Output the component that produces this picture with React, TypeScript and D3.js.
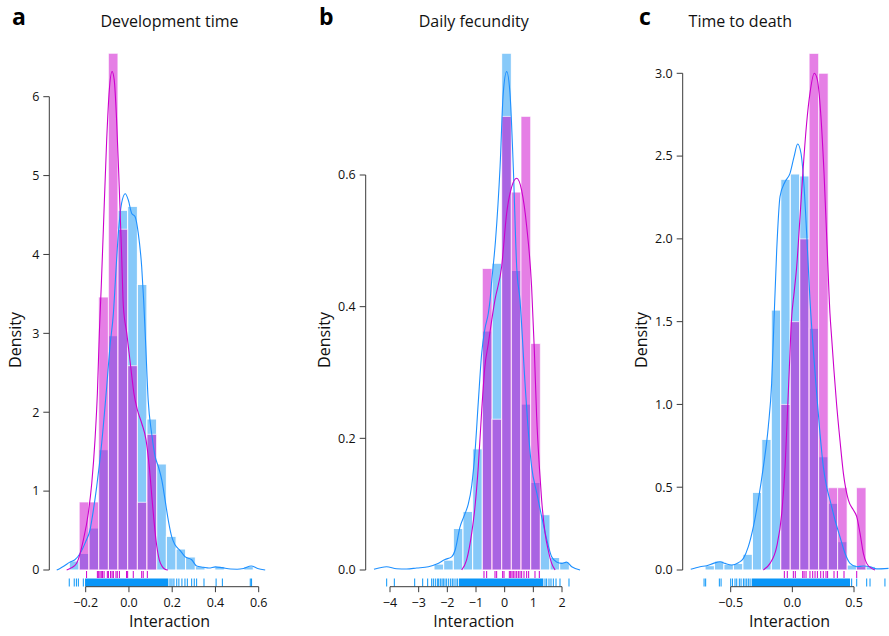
import React from "react";
import * as d3 from "d3";

const W = 889;
const H = 636;
const FONT = "'Open Sans', 'Noto Sans', sans-serif";

// ---------- a: Development time ----------
const aBinEdges = [-0.276, -0.230, -0.185, -0.140, -0.095, -0.051, -0.006, 0.039, 0.083, 0.128, 0.173, 0.218, 0.262, 0.307, 0.352, 0.397, 0.441, 0.486, 0.531, 0.575, 0.620];
const aBlueHist = [0.114, 0.21, 0.532, 1.525, 2.97, 4.56, 4.61, 3.62, 1.914, 1.344, 0.427, 0.266, 0.165, 0.043, 0, 0.043, 0, 0, 0.043, 0];
const aPinkHist = [0, 0.862, 0.862, 3.46, 6.55, 4.32, 2.59, 0.858, 1.72, 0, 0, 0, 0, 0, 0, 0, 0, 0, 0, 0];
const aBlueDensity: [number, number][] = [
  [-0.334, 0], [-0.319, 0.02], [-0.3, 0.05], [-0.273, 0.1], [-0.25, 0.13], [-0.226, 0.21], [-0.2, 0.36],
  [-0.18, 0.51], [-0.165, 0.75], [-0.149, 1.06], [-0.126, 1.61], [-0.103, 2.32], [-0.088, 2.83], [-0.072, 3.25],
  [-0.06, 3.8], [-0.049, 4.27], [-0.034, 4.65], [-0.017, 4.77], [-0.003, 4.69], [0.013, 4.52], [0.028, 4.48],
  [0.043, 4.27], [0.059, 3.84], [0.068, 3.42], [0.076, 2.95], [0.089, 2.15], [0.105, 1.73], [0.121, 1.44],
  [0.136, 1.31], [0.152, 1.14], [0.167, 0.89], [0.182, 0.63], [0.198, 0.42], [0.213, 0.32], [0.236, 0.25],
  [0.259, 0.17], [0.29, 0.13], [0.313, 0.05], [0.344, 0.035], [0.37, 0.025], [0.4, 0.04], [0.43, 0.03],
  [0.47, 0.012], [0.5, 0.01], [0.53, 0.02], [0.565, 0.05], [0.595, 0.02], [0.63, 0],
];
const aPinkDensity: [number, number][] = [
  [-0.288, 0], [-0.265, 0.03], [-0.242, 0.085], [-0.211, 0.38], [-0.188, 0.72], [-0.172, 1.1], [-0.157, 1.65],
  [-0.146, 2.24], [-0.137, 3.0], [-0.128, 3.6], [-0.119, 4.27], [-0.103, 5.45], [-0.091, 6.08], [-0.078, 6.32],
  [-0.068, 6.21], [-0.057, 5.7], [-0.045, 4.86], [-0.034, 4.01], [-0.026, 3.35], [-0.01, 3.0], [0.008, 2.58],
  [0.023, 2.24], [0.039, 2.03], [0.059, 1.86], [0.079, 1.65], [0.094, 1.31], [0.11, 0.8], [0.125, 0.38],
  [0.14, 0.13], [0.155, 0.04], [0.167, 0.01], [0.18, 0],
];
const aBlueRug = [-0.276, -0.253, -0.243, -0.234, -0.211, 0.19, 0.199, 0.208, 0.221, 0.231, 0.245, 0.259, 0.27, 0.29, 0.302, 0.313, 0.347, 0.403, 0.432, 0.561, 0.567];
const aBlueRugBand = [-0.203, 0.182];
const aPinkRug = [-0.196, -0.146, -0.14, -0.134, -0.128, -0.122, -0.115, -0.1, -0.095, -0.085, -0.078, -0.072, -0.06, -0.054, -0.044, -0.011, -0.006, 0.02, 0.059, 0.066, 0.085];
const aXTicks = [-0.2, 0, 0.2, 0.4, 0.6];
const aYTicks = [0, 1, 2, 3, 4, 5, 6];

// ---------- b: Daily fecundity ----------
const bBinEdges = [-2.465, -2.128, -1.791, -1.454, -1.116, -0.779, -0.442, -0.105, 0.233, 0.57, 0.907, 1.244, 1.581, 1.919, 2.256];
const bBlueHist = [0.009, 0.015, 0.063, 0.089, 0.184, 0.363, 0.466, 0.785, 0.455, 0.252, 0.133, 0.084, 0.019, 0.012];
const bPinkHist = [0, 0, 0, 0, 0, 0.458, 0.229, 0.689, 0.574, 0.689, 0.344, 0, 0, 0];
const bBlueDensity: [number, number][] = [
  [-4.56, 0.001], [-4.12, 0.005], [-3.77, 0.002], [-3.42, 0.0015], [-3.07, 0.003], [-2.66, 0.005], [-2.37, 0.009],
  [-2.08, 0.016], [-1.85, 0.02], [-1.73, 0.03], [-1.56, 0.065], [-1.38, 0.086], [-1.27, 0.1], [-1.15, 0.128],
  [-1.035, 0.179], [-0.92, 0.255], [-0.8, 0.33], [-0.69, 0.366], [-0.57, 0.39], [-0.51, 0.41], [-0.45, 0.44],
  [-0.32, 0.5], [-0.16, 0.613], [-0.05, 0.724], [0.07, 0.757], [0.186, 0.724], [0.3, 0.613], [0.42, 0.46],
  [0.535, 0.41], [0.71, 0.284], [0.83, 0.208], [0.94, 0.157], [1.12, 0.117], [1.29, 0.081], [1.47, 0.046],
  [1.64, 0.02], [1.81, 0.012], [1.99, 0.01], [2.16, 0.012], [2.34, 0.005], [2.63, 0],
];
const bPinkDensity: [number, number][] = [
  [-1.5, 0], [-1.33, 0.015], [-1.15, 0.056], [-1.035, 0.096], [-0.92, 0.157], [-0.8, 0.243], [-0.69, 0.309],
  [-0.57, 0.344], [-0.45, 0.38], [-0.34, 0.41], [-0.105, 0.461], [0.07, 0.542], [0.245, 0.582], [0.42, 0.595],
  [0.59, 0.577], [0.77, 0.521], [0.94, 0.43], [1.035, 0.334], [1.116, 0.233], [1.21, 0.157], [1.29, 0.106],
  [1.41, 0.056], [1.52, 0.03], [1.64, 0.01], [1.76, 0],
];
const bBlueRug = [-4.116, -3.849, -3.139, -2.86, -2.686, -2.546, -2.488, -2.419, -2.349, -2.302, -2.244, -2.186, -2.14, -2.081, -2.023, -1.953, -1.884, -1.826, -1.767, -1.698, -1.64, 1.407, 1.465, 1.546, 1.616, 1.698, 1.791, 1.93, 2.244];
const bBlueRugBand = [-1.593, 1.349];
const bPinkRug = [-0.721, -0.628, -0.337, -0.279, -0.07, -0.023, 0.163, 0.209, 0.256, 0.302, 0.36, 0.419, 0.477, 0.535, 0.593, 0.674, 0.767, 0.837, 1.058, 1.209];
const bXTicks = [-4, -3, -2, -1, 0, 1, 2];
const bYTicks = [0, 0.2, 0.4, 0.6];

// ---------- c: Time to death ----------
const cBinEdges = [-0.708, -0.632, -0.555, -0.478, -0.401, -0.324, -0.248, -0.171, -0.094, -0.017, 0.06, 0.136, 0.213, 0.29, 0.367, 0.444, 0.52, 0.597, 0.674];
const cBlueHist = [0.026, 0.054, 0.034, 0.04, 0.095, 0.469, 0.789, 1.57, 2.36, 2.392, 2.38, 1.46, 0.684, 0.403, 0.171, 0.03, 0.02, 0.02];
const cPinkHist = [0, 0, 0, 0, 0, 0, 0, 0, 1.0, 1.5, 2.0, 3.12, 3.0, 0.497, 0.497, 0, 0.497, 0];
const cBlueDensity: [number, number][] = [
  [-0.824, 0.004], [-0.749, 0.02], [-0.695, 0.026], [-0.641, 0.04], [-0.586, 0.05], [-0.546, 0.04], [-0.492, 0.03],
  [-0.438, 0.044], [-0.397, 0.07], [-0.357, 0.141], [-0.316, 0.262], [-0.276, 0.423], [-0.235, 0.624],
  [-0.195, 0.866], [-0.168, 1.128], [-0.154, 1.4], [-0.127, 1.93], [-0.1, 2.255], [-0.059, 2.345], [-0.019, 2.396],
  [0.014, 2.497], [0.043, 2.573], [0.07, 2.517], [0.095, 2.315], [0.116, 2.034], [0.143, 1.631], [0.17, 1.329],
  [0.197, 1.067], [0.224, 0.826], [0.251, 0.624], [0.278, 0.503], [0.305, 0.423], [0.346, 0.302], [0.386, 0.201],
  [0.427, 0.101], [0.468, 0.04], [0.522, 0.02], [0.576, 0.024], [0.63, 0.02], [0.684, 0.007], [0.78, 0.01],
];
const cPinkDensity: [number, number][] = [
  [-0.235, 0], [-0.181, 0.04], [-0.127, 0.141], [-0.086, 0.342], [-0.059, 0.624], [-0.041, 0.926], [-0.024, 1.228],
  [-0.008, 1.5], [0.015, 1.68], [0.035, 1.83], [0.062, 2.13], [0.089, 2.44], [0.116, 2.7], [0.143, 2.88],
  [0.178, 3.0], [0.203, 2.96], [0.23, 2.758], [0.257, 2.396], [0.284, 1.913], [0.305, 1.55], [0.319, 1.4],
  [0.338, 1.2], [0.359, 1.0], [0.386, 0.785], [0.414, 0.584], [0.454, 0.423], [0.495, 0.362], [0.522, 0.322],
  [0.549, 0.221], [0.576, 0.101], [0.603, 0.04], [0.643, 0.01], [0.67, 0],
];
const cBlueRug = [-0.716, -0.703, -0.592, -0.578, -0.5, -0.486, -0.465, -0.451, -0.43, -0.416, -0.397, -0.384, -0.37, -0.357, -0.343, 0.481, 0.522, 0.603, 0.63, 0.751];
const cBlueRugBand = [-0.33, 0.468];
const cPinkRug = [-0.065, -0.041, 0.008, 0.024, 0.084, 0.095, 0.111, 0.143, 0.165, 0.184, 0.203, 0.23, 0.251, 0.273, 0.286, 0.338, 0.365, 0.419, 0.522];
const cXTicks = [-0.5, 0, 0.5];
const cYTicks = [0, 0.5, 1, 1.5, 2, 2.5, 3];

const titles = ["Development time", "Daily fecundity", "Time to death"];
const letters = ["a", "b", "c"];

const BLUE_BAR = "#87c9f9";
const PINK_BAR = "rgba(204,0,204,0.5)";
const BLUE_LINE = "#1e90ff";
const BLUE_RUG = "#0a96f8";
const PINK_LINE = "#cc00cc";
const AXIS = "#3a3a3a";

const Y0 = 570;
const X_AXIS_Y = 586.7;

const panels = [
  {
    edges: aBinEdges, blue: aBlueHist, pink: aPinkHist, blueD: aBlueDensity, pinkD: aPinkDensity,
    blueRug: aBlueRug, band: aBlueRugBand, pinkRug: aPinkRug, xTicks: aXTicks, yTicks: aYTicks,
    xDomain: [-0.2, 0.6], xRange: [85.7, 258.7], yDomain: [0, 6], yTop: 96.7, axisX: 49.3,
    xFmt: d3.format(".1f"), yFmt: d3.format("d"),
    letterX: 12, titleX: 169.5, densityX: 21, interX: 169.5,
  },
  {
    edges: bBinEdges, blue: bBlueHist, pink: bPinkHist, blueD: bBlueDensity, pinkD: bPinkDensity,
    blueRug: bBlueRug, band: bBlueRugBand, pinkRug: bPinkRug, xTicks: bXTicks, yTicks: bYTicks,
    xDomain: [-4, 2], xRange: [390, 562], yDomain: [0, 0.6], yTop: 175, axisX: 365.7,
    xFmt: d3.format("d"), yFmt: d3.format(".1f"),
    letterX: 319, titleX: 473.7, densityX: 330, interX: 473.8,
  },
  {
    edges: cBinEdges, blue: cBlueHist, pink: cPinkHist, blueD: cBlueDensity, pinkD: cPinkDensity,
    blueRug: cBlueRug, band: cBlueRugBand, pinkRug: cPinkRug, xTicks: cXTicks, yTicks: cYTicks,
    xDomain: [-0.5, 0.5], xRange: [730.7, 854], yDomain: [0, 3], yTop: 73.3, axisX: 682.7,
    xFmt: d3.format(".1f"), yFmt: d3.format(".1f"),
    letterX: 639, titleX: 740.3, densityX: 646.5, interX: 789.5,
  },
];

function Panel({ p, i }: { p: any; i: number }) {
  const x = d3.scaleLinear().domain(p.xDomain).range(p.xRange);
  const y = d3.scaleLinear().domain(p.yDomain).range([Y0, p.yTop]);
  const line = d3
    .line<[number, number]>()
    .x((d) => x(d[0]))
    .y((d) => y(d[1]))
    .curve(d3.curveMonotoneX);

  const bars = (vals: number[], fill: string, stroke: string, key: string) =>
    vals.map((v, k) =>
      v > 0 ? (
        <rect
          key={key + k}
          x={x(p.edges[k])}
          y={y(v)}
          width={x(p.edges[k + 1]) - x(p.edges[k])}
          height={Y0 - y(v)}
          fill={fill}
          stroke={stroke}
          strokeWidth={1}
        />
      ) : null
    );

  const yMax = p.yTicks[p.yTicks.length - 1];
  const x0 = p.xTicks[0];
  const x1 = p.xTicks[p.xTicks.length - 1];

  return (
    <g>
      <text x={p.letterX} y={25} fontSize={23} fontWeight="bold" fill="#000">
        {letters[i]}
      </text>
      <text x={p.titleX} y={27} fontSize={16} textAnchor="middle" fill="#111">
        {titles[i]}
      </text>

      {bars(p.blue, BLUE_BAR, "#ffffff", "b")}
      {bars(p.pink, PINK_BAR, "rgba(255,255,255,0.7)", "p")}

      <path d={line(p.blueD) || ""} fill="none" stroke={BLUE_LINE} strokeWidth={1.1} />
      <path d={line(p.pinkD) || ""} fill="none" stroke={PINK_LINE} strokeWidth={1.1} />

      {/* rugs */}
      {p.pinkRug.map((v: number, k: number) => (
        <line key={"pr" + k} x1={x(v)} x2={x(v)} y1={Y0 + 1} y2={Y0 + 8} stroke={PINK_LINE} strokeWidth={1} />
      ))}
      <rect
        x={x(p.band[0])}
        y={Y0 + 8.5}
        width={x(p.band[1]) - x(p.band[0])}
        height={8}
        fill={BLUE_RUG}
      />
      {p.blueRug.map((v: number, k: number) => (
        <line key={"br" + k} x1={x(v)} x2={x(v)} y1={Y0 + 8.5} y2={Y0 + 16.5} stroke={BLUE_RUG} strokeWidth={1} />
      ))}

      {/* y axis */}
      <line x1={p.axisX} x2={p.axisX} y1={y(0)} y2={y(yMax)} stroke={AXIS} strokeWidth={1} />
      {p.yTicks.map((t: number) => (
        <g key={"yt" + t}>
          <line x1={p.axisX - 6} x2={p.axisX} y1={y(t)} y2={y(t)} stroke={AXIS} strokeWidth={1} />
          <text x={p.axisX - 10} y={y(t)} dy="0.35em" fontSize={12.5} textAnchor="end" fill="#111">
            {p.yFmt(t)}
          </text>
        </g>
      ))}
      <text
        transform={`translate(${p.densityX},340) rotate(-90)`}
        fontSize={16}
        textAnchor="middle"
        fill="#111"
      >
        Density
      </text>

      {/* x axis */}
      <line x1={x(x0)} x2={x(x1)} y1={X_AXIS_Y} y2={X_AXIS_Y} stroke={AXIS} strokeWidth={1} />
      {p.xTicks.map((t: number) => (
        <g key={"xt" + t}>
          <line x1={x(t)} x2={x(t)} y1={X_AXIS_Y} y2={X_AXIS_Y + 5.5} stroke={AXIS} strokeWidth={1} />
          <text x={x(t)} y={606.5} fontSize={12.5} textAnchor="middle" fill="#111">
            {p.xFmt(t)}
          </text>
        </g>
      ))}
      <text x={p.interX} y={627} fontSize={16} textAnchor="middle" fill="#111">
        Interaction
      </text>
    </g>
  );
}

export default function App() {
  return (
    <svg
      width={W}
      height={H}
      style={{ position: "absolute", left: 0, top: 0, background: "#fff" }}
      fontFamily={FONT}
    >
      {panels.map((p, i) => (
        <Panel key={i} p={p} i={i} />
      ))}
    </svg>
  );
}
